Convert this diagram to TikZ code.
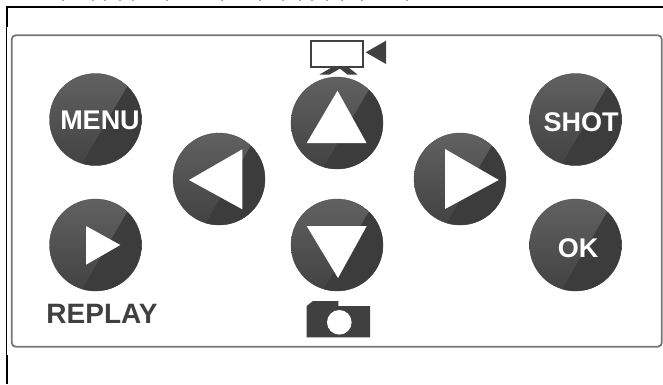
\documentclass[tikz,border=0pt]{standalone}
\usepackage{fontspec}
\setmainfont{Liberation Sans}
\usepackage{xcolor}
\definecolor{btntop}{HTML}{616161}
\definecolor{btnbot}{HTML}{424242}
\definecolor{btndark}{HTML}{3C3C3C}
\definecolor{iconc}{HTML}{404040}
\definecolor{panelc}{HTML}{777777}
\begin{document}
\begin{tikzpicture}[
  x=1pt, y=-1pt,
  btn/.style={circle, minimum size=92pt, inner sep=0pt, draw=btnbot, line width=0.3pt, top color=btntop, bottom color=btnbot,
    path picture={\fill[btndark, shift={(path picture bounding box.center)}]
      (37,-42) -- (-22.6,60) -- (60,60) -- (60,-42) -- cycle;}},
  btnlab/.style={text=white, inner sep=0pt, font=\fontsize{27}{27}\selectfont\bfseries},
  arrowtri/.style={fill=white},
  icon/.style={fill=iconc},
  frameln/.style={line width=2pt, black}]
\useasboundingbox (0,0) rectangle (663,384);
\fill[white] (0,0) rectangle (663,384);
\foreach \tx in {63,93,105,120,133,167,222,260,283,300,312,327,342,362,407}
  \draw[black!35, line width=2pt] (\tx,0) -- (\tx,1.2);
\draw[frameln] (6.5,26.7) -- (6.5,6.7) -- (663,6.7);
\draw[black, line width=0.7pt] (6,26) -- (6,355);
\draw[frameln] (6.5,355) -- (6.5,384);
\draw[panelc, line width=1.8pt, rounded corners=4pt] (11.7,35.3) rectangle (661.8,346.7);
\node[btn] (menu) at (95.5,119.5) {};
\node[btn] (replay) at (95.5,245) {};
\node[btn] (up) at (337,123) {};
\node[btn] (down) at (337,245) {};
\node[btn] (left) at (219,179) {};
\node[btn] (right) at (460,179) {};
\node[btn] (shot) at (575.5,119.5) {};
\node[btn] (ok) at (575.5,245) {};
\node[btnlab] (menulab) at (100,120.5) {MENU};
\node[btnlab] (shotlab) at (581,122.3) {SHOT};
\node[btnlab] (oklab) at (578,247.7) {OK};
\fill[arrowtri] (86,226) -- (120.3,245) -- (86,264.7) -- cycle;
\fill[arrowtri] (337.5,90.7) -- (366.5,143) -- (306.7,143) -- cycle;
\fill[arrowtri] (306.7,226) -- (366.7,226) -- (338,278) -- cycle;
\fill[arrowtri] (242.3,149.3) -- (242.3,209.3) -- (189,180) -- cycle;
\fill[arrowtri] (445,149) -- (498.7,180) -- (445,209) -- cycle;
\node[text=iconc, font=\fontsize{28}{28}\selectfont\bfseries, inner sep=0pt] (replaylab) at (102,313.5) {REPLAY};
% video icon
\draw[iconc, line width=2pt, fill=white] (311,40.5) rectangle (363,66.5);
\fill[icon] (365.7,52.3) -- (386,40.7) -- (386,64) -- cycle;
\fill[icon] (331.7,67.5) -- (342,67.5) -- (329.5,74.5) -- (319.5,74.5) -- cycle;
\fill[icon] (338.5,67.5) -- (348.5,67.5) -- (357.5,74.5) -- (347.5,74.5) -- cycle;
% photo icon
\fill[icon] (306.7,306) -- (313,301) -- (338.3,301) -- (338.3,306) -- (370,306) -- (370,337.3) -- (306.7,337.3) -- cycle;
\fill[white] (339.3,322.3) circle (12.3);
\end{tikzpicture}
\end{document}
